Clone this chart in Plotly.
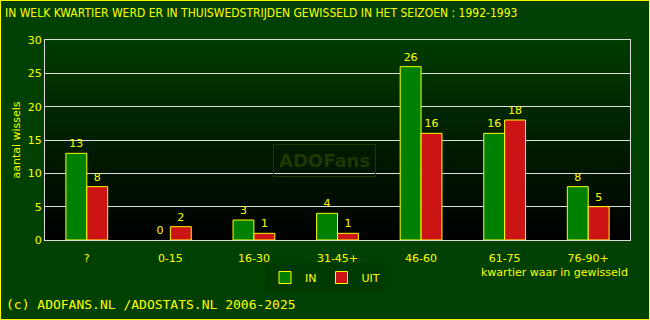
import plotly.graph_objects as go

categories = ["?", "0-15", "16-30", "31-45+", "46-60", "61-75", "76-90+"]
in_values = [13, 0, 3, 4, 26, 16, 8]
uit_values = [8, 2, 1, 1, 16, 18, 5]
y_ticks = [0, 5, 10, 15, 20, 25, 30]

YEL = "#ffff00"
FONT = "DejaVu Sans"

def outline_widths(vals):
    return [0 if v == 0 else 1 for v in vals]

fig = go.Figure()
fig.add_trace(go.Bar(
    name="IN", x=categories, y=in_values,
    marker=dict(color="#008000", line=dict(color=YEL, width=outline_widths(in_values))),
    text=[str(v) for v in in_values], textposition="outside",
    textfont=dict(color=YEL, size=11, family=FONT), cliponaxis=False,
))
fig.add_trace(go.Bar(
    name="UIT", x=categories, y=uit_values,
    marker=dict(color="#cc1414", line=dict(color=YEL, width=outline_widths(uit_values))),
    text=[str(v) for v in uit_values], textposition="outside",
    textfont=dict(color=YEL, size=11, family=FONT), cliponaxis=False,
))

# gradient plot background
shapes = []
n = 40
for i in range(n):
    shapes.append(dict(type="rect", xref="x domain", yref="y domain",
                       x0=0, x1=1, y0=1 - (i + 1) / n, y1=1 - i / n,
                       fillcolor=f"rgb(0,{int(round(0x3c*(1-(i+0.5)/n)))},0)",
                       line=dict(width=0), layer="below"))
# outer yellow border
shapes.append(dict(type="rect", xref="paper", yref="paper", x0=-45/585, x1=1+20/585,
                   y0=-80/200, y1=1+40/200, line=dict(color=YEL, width=2),
                   fillcolor="rgba(0,0,0,0)", layer="above"))

fig.update_layout(
    width=650, height=320,
    margin=dict(l=45, r=20, t=40, b=80),
    paper_bgcolor="#004000",
    plot_bgcolor="#000000",
    barmode="group", bargap=0.5, bargroupgap=0,
    font=dict(family=FONT, color=YEL, size=11),
    shapes=shapes,
    showlegend=True,
    legend=dict(orientation="h", x=(265 - 45) / 585, y=-0.115, xanchor="left", yanchor="top",
                font=dict(size=11, color=YEL, family=FONT), bgcolor="#003a00",
                itemwidth=30, traceorder="normal"),
    xaxis=dict(showgrid=False, showline=True, linecolor="#dddddd", linewidth=1, mirror=True,
               tickfont=dict(size=11, color=YEL), ticks="", ticklabelstandoff=8),
    yaxis=dict(range=[0, 30], tickvals=y_ticks, showgrid=True, gridcolor="#dddddd", gridwidth=1,
               showline=True, linecolor="#dddddd", linewidth=1, mirror=True, zeroline=False,
               tickfont=dict(size=11, color=YEL), ticks="",
               title=dict(text="aantal wissels", font=dict(size=11, color=YEL), standoff=4)),
    annotations=[
        dict(text="IN WELK KWARTIER WERD ER IN THUISWEDSTRIJDEN GEWISSELD IN HET SEIZOEN : 1992-1993",
             xref="paper", yref="paper", x=-42/585, y=1+27/200, xanchor="left", yanchor="middle",
             showarrow=False, font=dict(size=12, color=YEL, family="DejaVu Sans Condensed, DejaVu Sans")),
        dict(text="kwartier waar in gewisseld", xref="paper", yref="paper",
             x=1, y=-32/200, xanchor="right", yanchor="middle", showarrow=False,
             font=dict(size=11, color=YEL, family=FONT)),
        dict(text="(c) ADOFANS.NL /ADOSTATS.NL 2006-2025", xref="paper", yref="paper",
             x=-41/585, y=-64/200, xanchor="left", yanchor="middle", showarrow=False,
             font=dict(size=13, color=YEL, family="DejaVu Sans Mono")),
        dict(text="<b>ADOFans</b>", xref="paper", yref="paper",
             x=(324 - 45) / 585, y=(240 - 160) / 200, xanchor="center", yanchor="middle",
             showarrow=False, font=dict(size=18, color="#203800", family=FONT),
             bordercolor="#203800", borderwidth=1, borderpad=5),
    ],
)

fig.write_html("out.html")
